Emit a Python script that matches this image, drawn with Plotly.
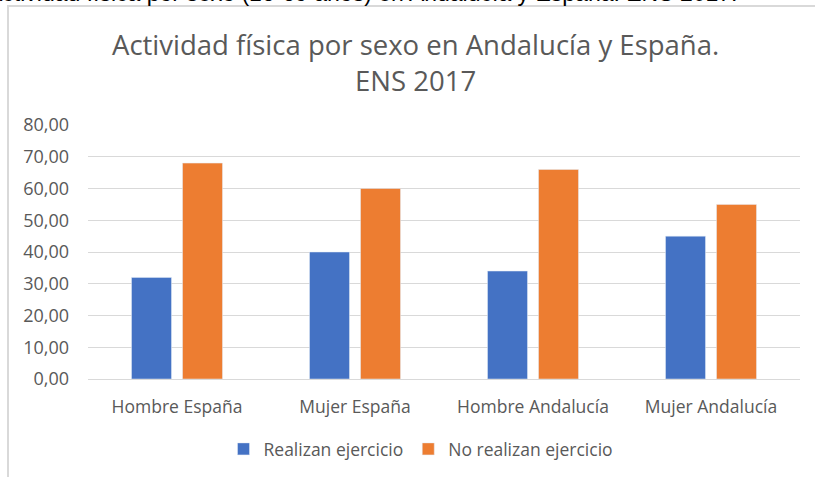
import plotly.graph_objects as go

categories = ["Hombre España", "Mujer España", "Hombre Andalucía", "Mujer Andalucía"]
realizan = [32, 40, 34, 45]
no_realizan = [68, 60, 66, 55]
tick_vals = [0, 10, 20, 30, 40, 50, 60, 70, 80]
tick_text = ["0,00", "10,00", "20,00", "30,00", "40,00", "50,00", "60,00", "70,00", "80,00"]

W, H = 815, 477
L, R, T, B = 88, 800, 125, 379

def px(x):
    return (x - L) / (R - L)

def py(y):
    return (B - y) / (B - T)

FONT = "Open Sans"
GREY = "#595959"

fig = go.Figure()
fig.add_trace(go.Bar(x=categories, y=realizan, name="Realizan ejercicio",
                     marker=dict(color="#4472C4")))
fig.add_trace(go.Bar(x=categories, y=no_realizan, name="No realizan ejercicio",
                     marker=dict(color="#ED7D31")))

fig.update_layout(
    width=W, height=H,
    margin=dict(l=L, r=W - R, t=T, b=H - B, autoexpand=False),
    paper_bgcolor="white", plot_bgcolor="white",
    barmode="group", bargap=0.427, bargroupgap=0.216,
    font=dict(family=FONT, color=GREY, size=17),
    showlegend=True,
    legend=dict(orientation="h", x=px(421), xanchor="center", y=py(449), yanchor="middle",
                font=dict(family=FONT, size=17.5, color=GREY), bgcolor="rgba(0,0,0,0)"),
    xaxis=dict(showgrid=False, showline=False, ticks="", tickfont=dict(size=17.5, color=GREY),
               ticklabelstandoff=15),
    yaxis=dict(range=[0, 80], tickvals=tick_vals, ticktext=tick_text, showgrid=True,
               gridcolor="#D9D9D9", gridwidth=1, zeroline=True, zerolinecolor="#D9D9D9",
               zerolinewidth=1, showline=False, ticks="", tickfont=dict(size=18, color=GREY),
               ticklabelstandoff=18),
)

fig.add_annotation(text="Actividad física por sexo en Andalucía y España.<br>ENS 2017",
                   xref="paper", yref="paper", x=px(415), y=py(62), xanchor="center",
                   yanchor="middle", showarrow=False,
                   font=dict(family=FONT, size=27.5, color=GREY))

fig.add_annotation(text="Actividad física por sexo (16-69 años) en Andalucía y España. ENS 2017.",
                   xref="paper", yref="paper", x=px(740), y=py(8), xanchor="right",
                   yanchor="bottom", showarrow=False,
                   font=dict(family="Liberation Sans", size=23, color="black"))

fig.add_shape(type="rect", xref="paper", yref="paper",
              x0=px(8), x1=px(840), y0=py(500), y1=py(6),
              line=dict(color="#D9D9D9", width=2), fillcolor="rgba(0,0,0,0)", layer="below")

fig.write_html("out.html", config={"displayModeBar": False},
               post_script="document.body.style.margin='0px';")
